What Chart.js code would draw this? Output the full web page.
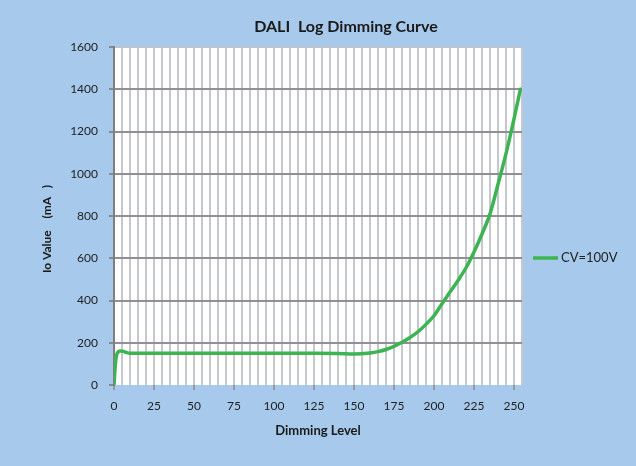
<!DOCTYPE html>
<html><head><meta charset="utf-8">
<script src="https://cdn.jsdelivr.net/npm/chart.js@4/dist/chart.umd.min.js"></script>
<style>html,body{margin:0;padding:0;background:#A7CAEC;} canvas{display:block}</style>
</head><body>
<canvas id="c" width="636" height="466"></canvas>
<script>
const chartTitle = "DALI  Log Dimming Curve";
const xAxisTitle = "Dimming Level";
const yAxisTitle = "Io Value    (mA   )";
const seriesName = "CV=100V";
const dimmingLevels = [0, 1, 2, 4, 6, 8, 10, 25, 50, 75, 100, 125, 140, 150, 160, 165, 170, 175, 180, 185, 190, 195, 200, 205, 210, 215, 220, 225, 230, 235, 240, 245, 250, 254];
const ioValues      = [0, 110, 150, 161, 159, 153, 150, 150, 150, 150, 150, 150, 149, 147, 152, 158, 168, 183, 202, 225, 252, 287, 328, 385, 440, 495, 555, 630, 715, 810, 950, 1095, 1260, 1400];
const xTickLabels = [0, 25, 50, 75, 100, 125, 150, 175, 200, 225, 250];
const yTickLabels = [0, 200, 400, 600, 800, 1000, 1200, 1400, 1600];

const FONT = 'Lato';
const BG = '#A7CAEC';
const GREEN = '#3CB451';

const bgPlugin = {
  id: 'bg',
  beforeDraw(chart) {
    const {ctx, chartArea: a} = chart;
    ctx.save();
    ctx.fillStyle = BG;
    ctx.fillRect(0, 0, chart.width, chart.height);
    ctx.fillStyle = '#ffffff';
    ctx.fillRect(a.left, a.top, a.right - a.left, a.bottom - a.top);
    ctx.restore();
  },
  afterDraw(chart) {
    const {ctx} = chart;
    ctx.save();
    ctx.fillStyle = '#1a1a1a';
    ctx.font = 'bold 16px ' + FONT;
    ctx.textAlign = 'center';
    ctx.textBaseline = 'middle';
    ctx.fillText(chartTitle, 346, 27);
    // y axis title
    ctx.save();
    ctx.translate(47, 229);
    ctx.rotate(-Math.PI / 2);
    ctx.font = 'bold 12px ' + FONT;
    ctx.fillText(yAxisTitle, 0, 0);
    ctx.restore();
    // legend
    const ds = chart.data.datasets[0];
    ctx.strokeStyle = ds.borderColor;
    ctx.lineWidth = 3.5;
    ctx.beginPath();
    ctx.moveTo(533, 258);
    ctx.lineTo(558, 258);
    ctx.stroke();
    ctx.font = '13px ' + FONT;
    ctx.textAlign = 'left';
    ctx.fillStyle = '#222';
    ctx.fillText(ds.label, 561, 258);
    ctx.restore();
  }
};

const points = dimmingLevels.map((x, i) => ({x: x, y: ioValues[i]}));

new Chart(document.getElementById('c'), {
  type: 'line',
  data: {
    datasets: [{
      label: seriesName,
      data: points,
      borderColor: GREEN,
      borderWidth: 3.5,
      pointRadius: 0,
      fill: false,
      cubicInterpolationMode: 'monotone',
      borderCapStyle: 'round'
    }]
  },
  options: {
    responsive: false,
    animation: false,
    layout: {padding: {left: 10, top: 47, right: 114, bottom: 16}},
    plugins: {legend: {display: false}, title: {display: false}, tooltip: {enabled: false}},
    scales: {
      x: {
        type: 'linear',
        min: 0, max: 255,
        afterFit(s) { s.height = 65; },
        ticks: {
          stepSize: 5, autoSkip: false, maxRotation: 0, padding: 9,
          color: '#222', font: {family: FONT, size: 12},
          callback: v => xTickLabels.includes(v) ? String(v) : ''
        },
        grid: {
          z: -2,
          color: '#c6c6ce',
          lineWidth: 2,
          tickLength: 5,
          tickWidth: 1.5,
          tickColor: c => (c.tick && xTickLabels.includes(c.tick.value)) ? '#8a8a8a' : 'rgba(0,0,0,0)'
        },
        border: {display: false},
        title: {display: true, text: xAxisTitle, color: '#1a1a1a', font: {family: FONT, size: 13, weight: 'bold'}, padding: {top: 0, bottom: 11}}
      },
      y: {
        min: 0, max: 1600,
        afterFit(s) { s.width = 104; },
        ticks: {
          stepSize: 200, padding: 11,
          color: '#222', font: {family: FONT, size: 12},
          callback: v => yTickLabels.includes(v) ? String(v) : ''
        },
        grid: {
          z: -1,
          color: c => (c.tick && c.tick.value === 0) ? 'rgba(0,0,0,0)' : (c.tick && c.tick.value === 1600 ? '#bcc4cf' : '#8f8f95'),
          lineWidth: 2,
          tickLength: 5,
          tickColor: '#8a8a8a'
        },
        border: {display: true, color: '#7f7f7f', width: 2},
        title: {display: false}
      }
    }
  },
  plugins: [bgPlugin]
});
</script>
</body></html>
